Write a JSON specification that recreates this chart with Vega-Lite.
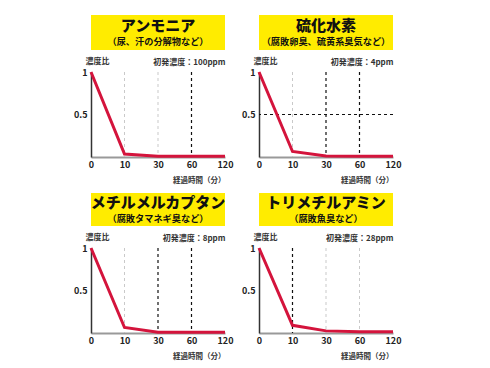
{
  "$schema": "https://vega.github.io/schema/vega-lite/v6.json",
  "autosize": {"type": "pad"},
  "padding": {"left": 73, "top": 15, "right": 5, "bottom": 5},
  "background": "white",
  "config": {
    "font": "Noto Sans CJK JP",
    "view": {"stroke": null},
    "axisX": {"labelAngle": 0, "ticks": false, "labelPadding": 3, "labelFontSize": 9, "labelFontWeight": "bold", "labelColor": "#222", "domainColor": "#999", "domainWidth": 2, "grid": false, "titleAnchor": "end", "titleFontSize": 7.5, "titleFontWeight": "bold", "titleColor": "#333", "titlePadding": 7},
    "axisTop": {"labels": false, "domain": false, "ticks": false, "titleFontSize": 8, "titlePadding": 6},
    "axisY": {"ticks": false, "labelPadding": 4, "labelFontSize": 9, "labelFontWeight": "bold", "labelColor": "#222", "domainColor": "#333", "domainWidth": 1.5, "grid": false, "titleAngle": 0, "titleAlign": "left", "titleBaseline": "middle", "titleX": -6, "titleY": -11, "titleFontSize": 8, "titleFontWeight": "bold", "titleColor": "#333"},
    "text": {"font": "Noto Sans CJK JP", "fontWeight": "bold", "color": "#111"}
  },
  "vconcat": [
    {
      "hconcat": [
        {
          "vconcat": [
            {
              "width": 134, "height": 35,
              "view": {"fill": "#ffec00", "stroke": null},
              "layer": [
                {"data": {"values": [{"name": "アンモニア"}]}, "mark": {"type": "text", "fontSize": 15, "fontWeight": 900, "dy": -7}, "encoding": {"text": {"field": "name"}}},
                {"data": {"values": [{"name": "（尿、汗の分解物など）"}]}, "mark": {"type": "text", "fontSize": 9.2, "dy": 9}, "encoding": {"text": {"field": "name"}}}
              ]
            },
            {
              "width": 134, "height": 85,
              "resolve": {"axis": {"x": "independent"}},
              "layer": [
                {"data": {"values": [{"t": 10}, {"t": 30}]}, "mark": {"type": "rule", "color": "#bbb", "strokeWidth": 0.8, "strokeDash": [3, 3]}, "encoding": {"x": {"field": "t", "type": "ordinal", "axis": {"orient": "top", "title": "初発濃度：100ppm"}}}},
                {"data": {"values": [{"t": 60}]}, "mark": {"type": "rule", "color": "#111", "strokeWidth": 1.2, "strokeDash": [3, 3]}, "encoding": {"x": {"field": "t", "type": "ordinal", "axis": null}}},
                {"data": {"values": [{"t": 0, "r": 1}, {"t": 10, "r": 0.035}, {"t": 30, "r": 0.01}, {"t": 60, "r": 0.01}, {"t": 120, "r": 0.01}]},
                 "mark": {"type": "line", "color": "#d4143c", "strokeWidth": 3},
                 "encoding": {
                   "x": {"field": "t", "type": "ordinal", "scale": {"type": "point", "padding": 0, "domain": [0, 10, 30, 60, 120]}, "axis": {"title": "経過時間（分）"}},
                   "y": {"field": "r", "type": "quantitative", "scale": {"domain": [0, 1]}, "axis": {"title": "濃度比", "values": [0.5, 1], "format": "~g"}}
                 }}
              ]
            }
          ],
          "spacing": 7, "align": "none"
        },
        {
          "vconcat": [
            {
              "width": 134, "height": 35,
              "view": {"fill": "#ffec00", "stroke": null},
              "layer": [
                {"data": {"values": [{"name": "硫化水素"}]}, "mark": {"type": "text", "fontSize": 15, "fontWeight": 900, "dy": -7}, "encoding": {"text": {"field": "name"}}},
                {"data": {"values": [{"name": "（腐敗卵臭、硫黄系臭気など）"}]}, "mark": {"type": "text", "fontSize": 9.2, "dy": 9}, "encoding": {"text": {"field": "name"}}}
              ]
            },
            {
              "width": 134, "height": 85,
              "resolve": {"axis": {"x": "independent"}},
              "layer": [
                {"data": {"values": [{"t": 10}]}, "mark": {"type": "rule", "color": "#bbb", "strokeWidth": 0.8, "strokeDash": [3, 3]}, "encoding": {"x": {"field": "t", "type": "ordinal", "axis": {"orient": "top", "title": "初発濃度：4ppm"}}}},
                {"data": {"values": [{"t": 30}, {"t": 60}]}, "mark": {"type": "rule", "color": "#111", "strokeWidth": 1.2, "strokeDash": [3, 3]}, "encoding": {"x": {"field": "t", "type": "ordinal", "axis": null}}},
                {"data": {"values": [{"r": 0.5}]}, "mark": {"type": "rule", "color": "#111", "strokeWidth": 1.2, "strokeDash": [3, 3]}, "encoding": {"y": {"field": "r", "type": "quantitative"}}},
                {"data": {"values": [{"t": 0, "r": 1}, {"t": 10, "r": 0.065}, {"t": 30, "r": 0.012}, {"t": 60, "r": 0.01}, {"t": 120, "r": 0.01}]},
                 "mark": {"type": "line", "color": "#d4143c", "strokeWidth": 3},
                 "encoding": {
                   "x": {"field": "t", "type": "ordinal", "scale": {"type": "point", "padding": 0, "domain": [0, 10, 30, 60, 120]}, "axis": {"title": "経過時間（分）"}},
                   "y": {"field": "r", "type": "quantitative", "scale": {"domain": [0, 1]}, "axis": {"title": "濃度比", "values": [0.5, 1], "format": "~g"}}
                 }}
              ]
            }
          ],
          "spacing": 7, "align": "none"
        }
      ],
      "spacing": 8
    },
    {
      "hconcat": [
        {
          "vconcat": [
            {
              "width": 134, "height": 33,
              "view": {"fill": "#ffec00", "stroke": null},
              "layer": [
                {"data": {"values": [{"name": "メチルメルカプタン"}]}, "mark": {"type": "text", "fontSize": 15, "fontWeight": 900, "dy": -7}, "encoding": {"text": {"field": "name"}}},
                {"data": {"values": [{"name": "（腐敗タマネギ臭など）"}]}, "mark": {"type": "text", "fontSize": 9.2, "dy": 9}, "encoding": {"text": {"field": "name"}}}
              ]
            },
            {
              "width": 134, "height": 85,
              "resolve": {"axis": {"x": "independent"}},
              "layer": [
                {"data": {"values": [{"t": 10}]}, "mark": {"type": "rule", "color": "#bbb", "strokeWidth": 0.8, "strokeDash": [3, 3]}, "encoding": {"x": {"field": "t", "type": "ordinal", "axis": {"orient": "top", "title": "初発濃度：8ppm"}}}},
                {"data": {"values": [{"t": 30}, {"t": 60}]}, "mark": {"type": "rule", "color": "#111", "strokeWidth": 1.2, "strokeDash": [3, 3]}, "encoding": {"x": {"field": "t", "type": "ordinal", "axis": null}}},
                {"data": {"values": [{"t": 0, "r": 1}, {"t": 10, "r": 0.065}, {"t": 30, "r": 0.01}, {"t": 60, "r": 0.01}, {"t": 120, "r": 0.01}]},
                 "mark": {"type": "line", "color": "#d4143c", "strokeWidth": 3},
                 "encoding": {
                   "x": {"field": "t", "type": "ordinal", "scale": {"type": "point", "padding": 0, "domain": [0, 10, 30, 60, 120]}, "axis": {"title": "経過時間（分）"}},
                   "y": {"field": "r", "type": "quantitative", "scale": {"domain": [0, 1]}, "axis": {"title": "濃度比", "values": [0.5, 1], "format": "~g"}}
                 }}
              ]
            }
          ],
          "spacing": 7, "align": "none"
        },
        {
          "vconcat": [
            {
              "width": 134, "height": 33,
              "view": {"fill": "#ffec00", "stroke": null},
              "layer": [
                {"data": {"values": [{"name": "トリメチルアミン"}]}, "mark": {"type": "text", "fontSize": 15, "fontWeight": 900, "dy": -7}, "encoding": {"text": {"field": "name"}}},
                {"data": {"values": [{"name": "（腐敗魚臭など）"}]}, "mark": {"type": "text", "fontSize": 9.2, "dy": 9}, "encoding": {"text": {"field": "name"}}}
              ]
            },
            {
              "width": 134, "height": 85,
              "resolve": {"axis": {"x": "independent"}},
              "layer": [
                {"data": {"values": [{"t": 30}, {"t": 60}]}, "mark": {"type": "rule", "color": "#bbb", "strokeWidth": 0.8, "strokeDash": [3, 3]}, "encoding": {"x": {"field": "t", "type": "ordinal", "axis": {"orient": "top", "title": "初発濃度：28ppm"}}}},
                {"data": {"values": [{"t": 10}]}, "mark": {"type": "rule", "color": "#111", "strokeWidth": 1.2, "strokeDash": [3, 3]}, "encoding": {"x": {"field": "t", "type": "ordinal", "axis": null}}},
                {"data": {"values": [{"t": 0, "r": 1}, {"t": 10, "r": 0.09}, {"t": 30, "r": 0.025}, {"t": 60, "r": 0.015}, {"t": 120, "r": 0.015}]},
                 "mark": {"type": "line", "color": "#d4143c", "strokeWidth": 3},
                 "encoding": {
                   "x": {"field": "t", "type": "ordinal", "scale": {"type": "point", "padding": 0, "domain": [0, 10, 30, 60, 120]}, "axis": {"title": "経過時間（分）"}},
                   "y": {"field": "r", "type": "quantitative", "scale": {"domain": [0, 1]}, "axis": {"title": "濃度比", "values": [0.5, 1], "format": "~g"}}
                 }}
              ]
            }
          ],
          "spacing": 7, "align": "none"
        }
      ],
      "spacing": 8
    }
  ],
  "spacing": 9
}
